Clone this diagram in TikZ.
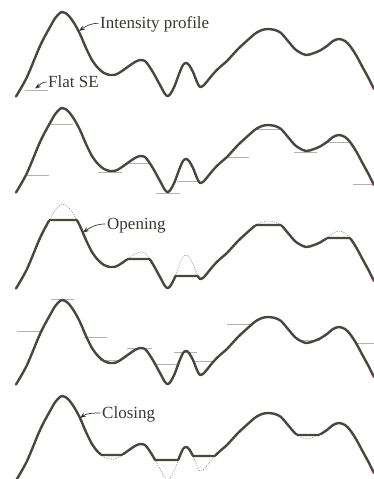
\documentclass[tikz,border=0pt]{standalone}
\usepackage{fontspec}
\setmainfont{Liberation Serif}
\usetikzlibrary{arrows.meta,intersections}
\definecolor{curvec}{HTML}{4A4540}
\definecolor{secol}{HTML}{B2B2B2}
\definecolor{dotc}{HTML}{959595}
\definecolor{txtc}{HTML}{3A3632}
\newcommand\prof[1]{\path[#1] plot[smooth,tension=0.5] coordinates {(16,96.5) (27,77) (40,46) (50,27) (56,17) (62,12) (68,15) (74,23) (80,34) (86,48) (92,60) (98,68) (104,73) (110,75) (116,74.5) (122,71) (129,66) (135,62) (140,60) (145,61) (149,66) (154,74) (160,85) (165,94) (168,96) (171,93) (175,85) (179,74) (183,65) (186,63) (189,65) (193,72) (197,82) (200,87) (204,85) (209,79) (214,73) (220,67) (227,61) (238,49) (250,38) (256,33) (262,30) (268,29) (275,30) (281,33) (288,41) (296,50) (306,55) (314,53) (320,50.5) (327,46) (333,41) (339,39) (345,41) (350,46) (356,55) (363,68) (369,79) (374,89)};}
\newcommand\flatseg[5]{%
  \path[name path=lvl#1] (#3,#5) -- (#4,#5);
  \draw[profline, name intersections={of=lvl#1 and #2, sort by=lvl#1}] (intersection-1) -- (intersection-2);}
\begin{document}
\begin{tikzpicture}[x=1pt,y=-1pt,
  profline/.style={draw=curvec, line width=2.4pt, line join=round, line cap=round},
  seline/.style={draw=secol, line width=0.9pt},
  orig/.style={draw=dotc, line width=0.6pt, dash pattern=on 1.2pt off 1.2pt},
  lbl/.style={anchor=base west, text=txtc, font=\fontsize{17}{19}\selectfont, inner sep=0pt},
  pointer/.style={draw=txtc, line width=0.7pt, -{Stealth[length=6pt,width=4.5pt]}}]
\useasboundingbox (0,0) rectangle (374,479);

% ---- panel 1: intensity profile
\prof{profline}
\draw[seline] (25,90) -- (48,90);
\node[lbl] (tint) at (100,28.3) {Intensity profile};
\coordinate (pint) at (79,31);
\draw[pointer] ([xshift=-1.5pt,yshift=5pt]tint.base west) to[out=180,in=35] (pint);
\node[lbl] (tse) at (48,87) {Flat SE};
\coordinate (pse) at (35,88.5);
\draw[pointer] ([xshift=-1.5pt,yshift=5pt]tse.base west) to[out=180,in=35] (pse);

% ---- panel 2: SE pushed up from below
\foreach \a/\b/\y in {27/49/175, 50/73/124, 98/122/172, 128/151/163, 156/180/193, 177/200/181, 227/249/157, 257/280/129, 294/317/152, 328/350/142, 353/374/184}
  \draw[seline] (\a,\y) -- (\b,\y);
\prof{profline, shift={(0,96)}}

% ---- panel 3: opening
\prof{orig, shift={(0,192)}}
\prof{name path=popen, shift={(0,192)}}
\begin{scope}[even odd rule]
  \clip (-5,185) rectangle (380,295)
    (40,190) rectangle (85,220)
    (120,190) rectangle (156,259)
    (170,190) rectangle (200,276)
    (242,190) rectangle (298,225)
    (320,190) rectangle (360,238);
  \prof{profline, shift={(0,192)}}
\end{scope}
\flatseg{a}{popen}{40}{85}{220}
\flatseg{b}{popen}{120}{156}{259}
\flatseg{c}{popen}{170}{200}{276}
\flatseg{d}{popen}{242}{298}{225}
\flatseg{e}{popen}{320}{360}{238}
\node[lbl] (topen) at (107,229) {Opening};
\coordinate (popn) at (83,232.5);
\draw[pointer] ([xshift=-1.5pt,yshift=5pt]topen.base west) to[out=180,in=35] (popn);

% ---- panel 4: SE pushed down from above
\foreach \a/\b/\y in {17/40/331.5, 51/74/299, 84/107/337, 100/122/360, 127/152/348, 157/178/364, 174/197/352, 193/213/361, 227/250/324, 297/320/340, 357/374/343}
  \draw[seline] (\a,\y) -- (\b,\y);
\prof{profline, shift={(0,288)}}

% ---- panel 5: closing
\prof{orig, shift={(0,384)}}
\prof{name path=pclose, shift={(0,384)}}
\begin{scope}[even odd rule]
  \clip (-5,378) rectangle (380,485)
    (92,455) rectangle (128,485)
    (150,460) rectangle (182,485)
    (188,456) rectangle (222,485)
    (288,435) rectangle (326,485);
  \prof{profline, shift={(0,384)}}
\end{scope}
\flatseg{f}{pclose}{92}{128}{455}
\flatseg{g}{pclose}{150}{182}{460}
\flatseg{h}{pclose}{188}{222}{456}
\flatseg{i}{pclose}{288}{326}{435}
\node[lbl] (tclose) at (102,418) {Closing};
\coordinate (pcls) at (80,418);
\draw[pointer] ([xshift=-1.5pt,yshift=5pt]tclose.base west) to[out=180,in=35] (pcls);
\end{tikzpicture}
\end{document}
